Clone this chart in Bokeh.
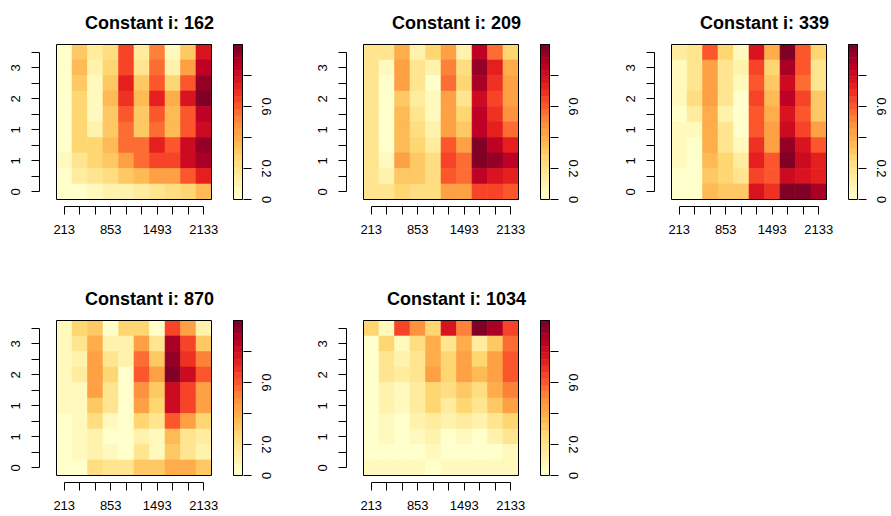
import numpy as np
from bokeh.plotting import figure
from bokeh.layouts import row, column
from bokeh.models import ColumnDataSource, LinearColorMapper, FixedTicker, LinearAxis, Range1d, Label
from bokeh.transform import transform
from bokeh.embed import file_html
from bokeh.resources import INLINE

# ---------------- data ----------------
titles = ["Constant i: 162", "Constant i: 209", "Constant i: 339",
          "Constant i: 870", "Constant i: 1034"]
x_values = [213, 427, 640, 853, 1067, 1280, 1493, 1707, 1920, 2133]
x_labelled = ["213", "853", "1493", "2133"]
y_tick_labels = ["0", "", "1", "", "1", "", "2", "", "3", ""]
cb_ticks = [0.0, 0.2, 0.4, 0.6, 0.8]
cb_tick_labels = ["0", "0.2", "", "0.6", ""]
z_min, z_max = 0.0, 1.0
ylorrd = ["#FFFFCC", "#FFEDA0", "#FED976", "#FEB24C", "#FD8D3C",
          "#FC4E2A", "#E31A1C", "#BD0026", "#800026"]
n_levels = 24

# cell values, rows listed from top row to bottom row
v162 = [
    [0.03, 0.33, 0.14, 0.22, 0.65, 0.15, 0.50, 0.08, 0.33, 0.75],
    [0.03, 0.37, 0.10, 0.25, 0.65, 0.18, 0.55, 0.12, 0.45, 0.85],
    [0.03, 0.33, 0.05, 0.33, 0.72, 0.30, 0.62, 0.25, 0.60, 0.95],
    [0.03, 0.27, 0.08, 0.37, 0.68, 0.35, 0.72, 0.40, 0.75, 1.00],
    [0.03, 0.25, 0.08, 0.30, 0.60, 0.30, 0.60, 0.35, 0.60, 0.85],
    [0.03, 0.25, 0.12, 0.30, 0.55, 0.30, 0.55, 0.35, 0.62, 0.80],
    [0.03, 0.25, 0.25, 0.37, 0.55, 0.55, 0.72, 0.60, 0.82, 0.95],
    [0.07, 0.20, 0.25, 0.33, 0.45, 0.55, 0.65, 0.65, 0.82, 0.90],
    [0.04, 0.15, 0.20, 0.22, 0.30, 0.37, 0.42, 0.45, 0.60, 0.72],
    [0.03, 0.03, 0.07, 0.10, 0.12, 0.15, 0.20, 0.22, 0.25, 0.35],
]
v209 = [
    [0.18, 0.20, 0.40, 0.10, 0.25, 0.45, 0.12, 0.85, 0.58, 0.28],
    [0.20, 0.05, 0.42, 0.17, 0.12, 0.50, 0.22, 0.95, 0.72, 0.38],
    [0.20, 0.04, 0.42, 0.20, 0.04, 0.55, 0.25, 0.90, 0.70, 0.42],
    [0.17, 0.04, 0.33, 0.15, 0.08, 0.42, 0.20, 0.82, 0.65, 0.42],
    [0.17, 0.04, 0.37, 0.18, 0.05, 0.45, 0.25, 0.85, 0.70, 0.48],
    [0.17, 0.04, 0.37, 0.22, 0.10, 0.45, 0.30, 0.87, 0.72, 0.58],
    [0.17, 0.04, 0.37, 0.28, 0.15, 0.60, 0.45, 1.00, 0.85, 0.72],
    [0.17, 0.08, 0.42, 0.30, 0.22, 0.65, 0.58, 1.00, 0.95, 0.85],
    [0.17, 0.10, 0.33, 0.30, 0.22, 0.62, 0.55, 0.85, 0.78, 0.72],
    [0.17, 0.17, 0.25, 0.22, 0.22, 0.42, 0.42, 0.65, 0.65, 0.60],
]
v339 = [
    [0.15, 0.20, 0.60, 0.25, 0.08, 0.75, 0.38, 0.98, 0.62, 0.28],
    [0.08, 0.20, 0.45, 0.18, 0.12, 0.65, 0.28, 0.88, 0.60, 0.20],
    [0.08, 0.20, 0.45, 0.18, 0.08, 0.62, 0.30, 0.82, 0.55, 0.20],
    [0.08, 0.22, 0.42, 0.18, 0.03, 0.65, 0.35, 0.85, 0.65, 0.30],
    [0.04, 0.15, 0.40, 0.12, 0.03, 0.62, 0.38, 0.78, 0.62, 0.32],
    [0.08, 0.08, 0.40, 0.17, 0.03, 0.62, 0.42, 0.82, 0.65, 0.42],
    [0.08, 0.03, 0.40, 0.20, 0.08, 0.68, 0.45, 0.92, 0.78, 0.62],
    [0.08, 0.03, 0.37, 0.28, 0.15, 0.72, 0.60, 1.00, 0.82, 0.72],
    [0.03, 0.03, 0.33, 0.28, 0.20, 0.65, 0.60, 0.82, 0.75, 0.72],
    [0.03, 0.03, 0.37, 0.33, 0.30, 0.75, 0.70, 0.98, 0.98, 0.90],
]
v870 = [
    [0.08, 0.25, 0.33, 0.03, 0.25, 0.25, 0.04, 0.65, 0.42, 0.12],
    [0.05, 0.20, 0.40, 0.12, 0.12, 0.42, 0.18, 0.88, 0.65, 0.33],
    [0.05, 0.12, 0.45, 0.20, 0.10, 0.55, 0.30, 0.95, 0.68, 0.50],
    [0.07, 0.15, 0.45, 0.25, 0.03, 0.62, 0.42, 1.00, 0.80, 0.60],
    [0.05, 0.08, 0.42, 0.20, 0.03, 0.48, 0.30, 0.82, 0.65, 0.45],
    [0.05, 0.08, 0.33, 0.18, 0.03, 0.45, 0.25, 0.80, 0.65, 0.45],
    [0.03, 0.08, 0.22, 0.08, 0.03, 0.28, 0.18, 0.60, 0.42, 0.25],
    [0.03, 0.08, 0.12, 0.03, 0.03, 0.12, 0.08, 0.35, 0.20, 0.15],
    [0.03, 0.08, 0.10, 0.07, 0.03, 0.18, 0.08, 0.30, 0.20, 0.12],
    [0.03, 0.03, 0.22, 0.17, 0.17, 0.30, 0.30, 0.38, 0.38, 0.30],
]
v1034 = [
    [0.25, 0.08, 0.65, 0.48, 0.25, 0.75, 0.52, 1.00, 0.88, 0.65],
    [0.03, 0.25, 0.08, 0.22, 0.38, 0.20, 0.38, 0.15, 0.33, 0.55],
    [0.03, 0.17, 0.12, 0.20, 0.40, 0.28, 0.45, 0.28, 0.45, 0.60],
    [0.03, 0.17, 0.15, 0.20, 0.42, 0.25, 0.45, 0.35, 0.45, 0.62],
    [0.03, 0.12, 0.08, 0.15, 0.28, 0.22, 0.33, 0.22, 0.38, 0.50],
    [0.03, 0.12, 0.08, 0.15, 0.25, 0.15, 0.28, 0.20, 0.33, 0.45],
    [0.03, 0.08, 0.03, 0.10, 0.15, 0.12, 0.15, 0.10, 0.20, 0.25],
    [0.03, 0.05, 0.03, 0.05, 0.10, 0.03, 0.08, 0.02, 0.10, 0.17],
    [0.03, 0.03, 0.03, 0.03, 0.06, 0.03, 0.03, 0.03, 0.03, 0.05],
    [0.05, 0.05, 0.05, 0.05, 0.03, 0.07, 0.07, 0.07, 0.07, 0.07],
]
panels_values = [v162, v209, v339, v870, v1034]

# ---------------- styling / layout ----------------
FONT = "Liberation Sans"
W_BOX, H_BOX = 155, 155
Y_AX_GAP, X_AX_GAP = 17, 7
CB_GAP, CB_W = 22, 9
TITLE_RISE = 22
TICK = 8


def make_palette(anchors, n):
    rgb = np.array([[int(c[i:i + 2], 16) for i in (1, 3, 5)] for c in anchors], float)
    ta = np.linspace(0, 1, len(anchors))
    out = []
    for t in np.linspace(0, 1, n):
        r, g, b = (int(round(np.interp(t, ta, rgb[:, k]))) for k in range(3))
        out.append("#%02x%02x%02x" % (r, g, b))
    return out


palette = make_palette(ylorrd, n_levels)
mapper = LinearColorMapper(palette=palette, low=z_min, high=z_max)


def style_axis(ax, standoff):
    ax.axis_line_color = "black"
    ax.axis_line_width = 1
    ax.major_tick_line_color = "black"
    ax.major_tick_out = TICK
    ax.major_tick_in = 0
    ax.minor_tick_line_color = None
    ax.major_label_text_font = FONT
    ax.major_label_text_font_size = "13px"
    ax.major_label_text_color = "black"
    ax.major_label_standoff = standoff


def panel(vals, title, lb, rb, top_px, bb):
    nrow = len(vals)
    ncol = len(x_values)
    dx = (x_values[-1] - x_values[0]) / (ncol - 1)
    bx0, bx1 = x_values[0] - dx / 2, x_values[-1] + dx / 2
    sx = W_BOX / (bx1 - bx0)
    sy = H_BOX / nrow
    cb_x0 = bx1 + CB_GAP / sx
    cb_x1 = cb_x0 + CB_W / sx
    zr = z_max - z_min

    p = figure(frame_width=Y_AX_GAP + W_BOX + CB_GAP + CB_W + 1,
               frame_height=top_px + H_BOX + X_AX_GAP,
               x_range=Range1d(bx0 - Y_AX_GAP / sx, cb_x1 + 1 / sx),
               y_range=Range1d(-0.5 - X_AX_GAP / sy, nrow - 0.5 + top_px / sy),
               min_border_left=lb, min_border_right=rb, min_border_top=0,
               min_border_bottom=bb, output_backend="svg", toolbar_location=None,
               outline_line_color=None, background_fill_color="white",
               border_fill_color="white")
    p.extra_y_ranges = {"cb": Range1d(z_min - X_AX_GAP / H_BOX * zr,
                                      z_max + top_px / H_BOX * zr)}
    p.xgrid.grid_line_color = None
    p.ygrid.grid_line_color = None

    xs, ys, vs = [], [], []
    for r, rowv in enumerate(vals):
        for c, v in enumerate(rowv):
            xs.append(x_values[c])
            ys.append(nrow - 1 - r)
            vs.append(v)
    src = ColumnDataSource(dict(x=xs, y=ys, v=vs))
    p.rect(x="x", y="y", width=dx, height=1, source=src,
           fill_color=transform("v", mapper), line_color=transform("v", mapper),
           line_width=0.6)
    # box around the image
    p.rect(x=[(bx0 + bx1) / 2], y=[(nrow - 1) / 2], width=bx1 - bx0, height=nrow,
           fill_color=None, line_color="black", line_width=1)

    # colour legend
    edges = np.linspace(z_min, z_max, len(palette) + 1)
    p.quad(left=cb_x0, right=cb_x1, bottom=edges[:-1], top=edges[1:],
           fill_color=palette, line_color=palette, line_width=0.5, y_range_name="cb")
    p.quad(left=[cb_x0], right=[cb_x1], bottom=[z_min], top=[z_max],
           fill_color=None, line_color="black", line_width=1, y_range_name="cb")

    # axes
    xa = p.xaxis[0]
    xa.ticker = FixedTicker(ticks=x_values)
    xa.major_label_overrides = {x: (str(x) if str(x) in x_labelled else "") for x in x_values}
    xa.bounds = (x_values[0], x_values[-1])
    style_axis(xa, 10)

    ya = p.yaxis[0]
    ya.ticker = FixedTicker(ticks=list(range(nrow)))
    ya.major_label_overrides = {i: lab for i, lab in enumerate(y_tick_labels)}
    ya.bounds = (0, nrow - 1)
    ya.major_label_orientation = "vertical"
    style_axis(ya, 12)

    ca = LinearAxis(y_range_name="cb", ticker=FixedTicker(ticks=cb_ticks),
                    major_label_overrides={t: l for t, l in zip(cb_ticks, cb_tick_labels)},
                    bounds=(z_min, z_max))
    style_axis(ca, 10)
    ca.axis_line_color = None
    ca.major_label_orientation = "vertical"
    p.add_layout(ca, "right")

    p.add_layout(Label(x=(bx0 + cb_x1) / 2, y=nrow - 0.5 + TITLE_RISE / sy, text=title,
                       text_align="center", text_baseline="alphabetic",
                       text_font=FONT, text_font_size="18px", text_font_style="bold",
                       text_color="black"))
    return p


# (left border, right border, space above box inside frame, bottom border)
row1_specs = [(39, 59, 44, 70), (44, 58, 44, 70), (46, 33, 44, 70)]
row2_specs = [(39, 59, 44, 33), (44, 58, 44, 33)]

figs1 = [panel(panels_values[i], titles[i], *row1_specs[i]) for i in range(3)]
figs2 = [panel(panels_values[3 + i], titles[3 + i], *row2_specs[i]) for i in range(2)]

layout = column(row(*figs1), row(*figs2))
open("out.html", "w").write(file_html(layout, INLINE))
